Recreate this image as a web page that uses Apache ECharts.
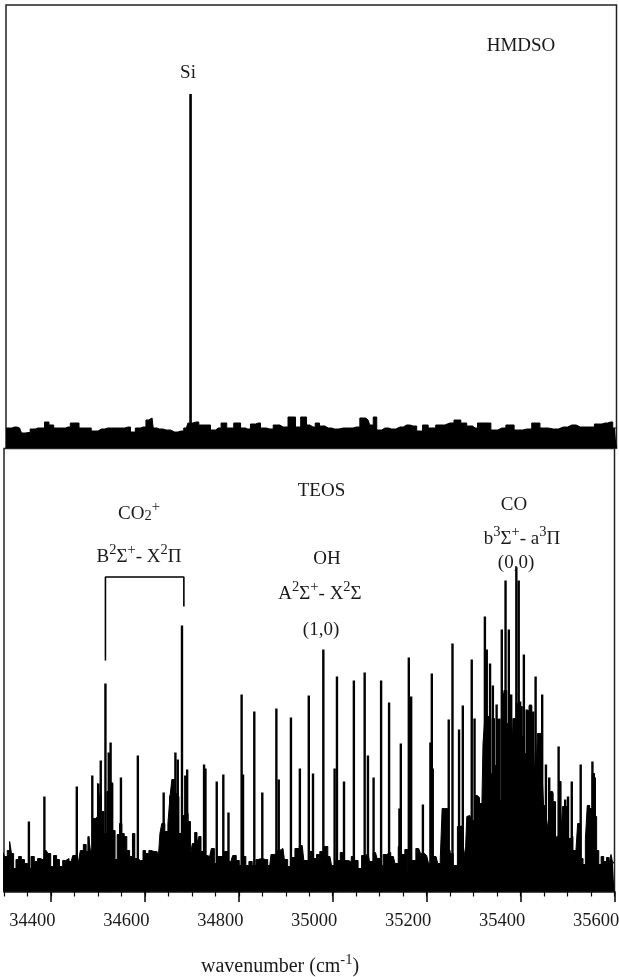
<!DOCTYPE html>
<html><head><meta charset="utf-8">
<style>html,body{margin:0;padding:0;background:#fff}#c{width:619px;height:977px}</style>
<script src="https://cdn.jsdelivr.net/npm/echarts@6/dist/echarts.min.js"></script>
</head><body><div id="c"></div>
<script>
const tickLabels = [34400,34600,34800,35000,35200,35400,35600];
const hmdsoNoise = [[34300,20],[34307,20],[34318,21],[34329,20],[34337,15],[34346,15.5],[34357,19],[34368,20],[34377,20],[34387,26],[34396,23],[34407,20],[34421,20],[34432,21],[34442,25],[34451,25],[34460,20],[34474,20],[34489,17],[34503,19],[34517,20],[34531,20],[34545,20],[34560,21],[34570,16],[34581,20],[34592,21],[34604,28],[34611,30],[34616,20],[34627,19],[34641,18],[34659,16],[34673,17],[34684,20],[34691,25],[34705,26],[34716,23],[34730,23],[34741,18],[34752,20],[34764,25],[34776,20],[34794,25],[34805,20],[34815,19],[34826,24],[34837,25],[34847,20],[34862,19],[34876,23],[34890,21],[34911,31],[34922,21],[34933,31],[34947,23],[34954,21],[34963,25],[34972,22],[34986,20],[35000,19],[35018,20],[35032,20],[35046,21],[35061,30],[35071,28],[35078,23],[35086,31],[35093,18],[35107,20],[35121,19],[35139,21],[35153,23],[35167,22],[35182,17],[35192,23],[35206,20],[35224,23],[35245,25],[35263,28],[35274,25],[35288,22],[35299,20],[35309,25],[35327,25],[35338,18],[35356,20],[35373,23],[35391,18],[35409,19],[35430,25],[35444,20],[35465,19],[35487,21],[35505,23],[35523,21],[35544,21],[35562,24],[35576,25],[35587,26],[35597,20],[35600,20]];
const hmdsoLines = [[34693,354]];
const teosBand = [[34298,39],[34304,35],[34310,41],[34314,50],[34318,38],[34323,23],[34328,32],[34334,35],[34340,32],[34347,28],[34354,23],[34361,35],[34368,30],[34375,33],[34381,31],[34390,41],[34397,38],[34402,25],[34409,36],[34415,32],[34421,25],[34429,31],[34434,33],[34443,30],[34450,36],[34459,31],[34466,41],[34472,47],[34478,40],[34482,55],[34486,41],[34492,73],[34497,75],[34501,108],[34505,95],[34510,80],[34516,58],[34522,100],[34529,108],[34534,61],[34539,32],[34543,57],[34549,68],[34553,58],[34559,55],[34564,41],[34571,35],[34576,58],[34581,33],[34588,31],[34593,31],[34599,41],[34604,38],[34613,41],[34620,40],[34626,40],[34631,33],[34633,58],[34639,68],[34646,60],[34652,68],[34655,95],[34660,112],[34665,98],[34670,95],[34675,58],[34682,76],[34689,78],[34695,70],[34699,36],[34703,48],[34709,59],[34713,48],[34717,55],[34722,40],[34733,36],[34738,35],[34745,43],[34751,28],[34760,35],[34766,35],[34773,40],[34783,30],[34791,36],[34798,31],[34804,26],[34812,35],[34818,26],[34825,30],[34832,26],[34841,32],[34849,33],[34857,32],[34866,26],[34871,37],[34878,38],[34887,41],[34894,43],[34900,32],[34908,25],[34916,34],[34923,43],[34935,46],[34942,31],[34949,30],[34954,40],[34962,33],[34969,37],[34976,40],[34985,45],[34994,35],[35001,26],[35011,31],[35021,39],[35028,31],[35036,30],[35043,35],[35050,31],[35058,23],[35065,36],[35075,38],[35082,30],[35091,39],[35098,33],[35104,26],[35111,37],[35118,39],[35129,35],[35136,28],[35143,45],[35150,37],[35157,42],[35163,21],[35171,31],[35183,43],[35191,38],[35200,36],[35208,28],[35220,35],[35227,28],[35231,33],[35235,83],[35242,83],[35247,41],[35253,38],[35260,26],[35271,65],[35274,66],[35282,30],[35284,45],[35287,75],[35292,76],[35299,71],[35305,96],[35310,94],[35315,88],[35319,71],[35321,148],[35326,171],[35331,175],[35337,118],[35342,173],[35347,126],[35353,172],[35358,91],[35362,198],[35367,201],[35374,168],[35380,197],[35383,146],[35387,173],[35394,188],[35401,185],[35406,155],[35411,138],[35415,181],[35421,186],[35427,180],[35430,131],[35434,105],[35438,158],[35443,158],[35447,125],[35451,86],[35456,78],[35459,65],[35465,100],[35471,90],[35475,46],[35479,55],[35484,110],[35488,60],[35491,85],[35497,85],[35503,53],[35508,55],[35515,41],[35520,38],[35523,68],[35530,33],[35536,27],[35540,52],[35544,86],[35550,83],[35555,118],[35560,75],[35564,41],[35569,27],[35574,35],[35580,30],[35586,34],[35591,27],[35594,37],[35599,28],[35600,30]];
const teosLines = [[34353,70],[34386,95],[34455,105],[34472,47],[34480,55],[34488,116],[34501,108],[34506,131],[34516,208],[34523,139],[34527,149],[34530,109],[34549,114],[34576,57],[34585,136],[34640,99],[34654,96],[34660,112],[34665,139],[34670,132],[34679,266],[34686,116],[34690,122],[34726,127],[34729,123],[34753,110],[34767,117],[34778,79],[34806,197],[34809,117],[34833,180],[34850,99],[34880,183],[34885,112],[34911,174],[34930,123],[34949,196],[34958,118],[34980,242],[35004,123],[35009,215],[35024,110],[35045,211],[35068,219],[35075,136],[35087,114],[35103,211],[35120,189],[35142,83],[35145,148],[35162,234],[35167,195],[35192,87],[35208,149],[35211,218],[35213,123],[35247,172],[35255,248],[35269,162],[35277,186],[35296,232],[35302,173],[35324,275],[35328,242],[35335,228],[35341,206],[35349,187],[35355,173],[35360,262],[35368,311],[35375,262],[35380,197],[35385,173],[35391,324],[35396,311],[35399,190],[35407,237],[35413,182],[35421,187],[35427,180],[35432,215],[35441,158],[35446,197],[35454,127],[35461,114],[35468,99],[35473,90],[35481,145],[35484,110],[35495,92],[35501,95],[35509,110],[35525,68],[35528,127],[35545,86],[35553,130],[35558,114]];
const co2Bracket = [[34516,231],[34516,314.5],[34683,314.5],[34683,285]];
const F = '"Liberation Serif"';
const rich = {
  n:{fontFamily:F,fontSize:19,color:'#1a1a1a',lineHeight:24,verticalAlign:'bottom'},
  w:{fontFamily:F,fontSize:20,color:'#1a1a1a',lineHeight:24,verticalAlign:'bottom'},
  u:{fontFamily:F,fontSize:14.5,color:'#1a1a1a',lineHeight:24,verticalAlign:'top'},
  d:{fontFamily:F,fontSize:14.5,color:'#1a1a1a',lineHeight:24,verticalAlign:'bottom'}
};
function note(x,y,t,align){
  return {type:'text',x:x,y:y,z:20,style:{text:t,rich:rich,align:align||'center',verticalAlign:'middle',fontFamily:F,fontSize:19,fill:'#1a1a1a'}};
}
const notes = [
  note(188,71,'{n|Si}'),
  note(521,44,'{n|HMDSO}'),
  note(321.5,489,'{n|TEOS}'),
  note(139,512,'{n|CO}{d|2}{u|+}'),
  note(139,555,'{n|B}{u|2}{n|Σ}{u|+}{n|- X}{u|2}{n|Π}'),
  note(327,557,'{n|OH}'),
  note(320,592,'{n|A}{u|2}{n|Σ}{u|+}{n|- X}{u|2}{n|Σ}'),
  note(321,628,'{n|(1,0)}'),
  note(514,503,'{n|CO}'),
  note(522,537,'{n|b}{u|3}{n|Σ}{u|+}{n|- a}{u|3}{n|Π}'),
  note(516,561,'{n|(0,0)}'),
  note(280,964.5,'{w|wavenumber (cm}{u|-1}{w|)}')
];
const xBase = {type:'value',min:34300,max:35600};
const chart = echarts.init(document.getElementById('c'),null,{renderer:'canvas',width:619,height:977});
chart.setOption({
  animation:false,
  backgroundColor:'#fff',
  graphic:notes,
  grid:[
    {left:6,top:5,width:610.5,height:443,show:true,outerBoundsMode:'none',borderColor:'#222',borderWidth:1.5,backgroundColor:'transparent'},
    {left:4,top:448.5,width:610.5,height:443,show:true,outerBoundsMode:'none',borderColor:'#222',borderWidth:1.5,backgroundColor:'transparent'}
  ],
  xAxis:[
    Object.assign({},xBase,{gridIndex:0,position:'bottom',interval:50,splitLine:{show:false},axisLine:{lineStyle:{color:'#222',width:1.5}},axisLabel:{show:false},axisTick:{show:true,inside:true,length:3,lineStyle:{color:'#000'}}}),
    Object.assign({},xBase,{gridIndex:1,position:'bottom',splitLine:{show:false},axisLine:{lineStyle:{color:'#222',width:1.5}},
      axisLabel:{show:true,customValues:tickLabels,margin:20.5,fontFamily:F,fontSize:18.5,color:'#1a1a1a',hideOverlap:false,padding:[0,37,0,0],formatter:v=>String(v)},
      axisTick:{show:true,customValues:tickLabels,length:10.5,lineStyle:{color:'#000',width:1.5}}}),
    Object.assign({},xBase,{gridIndex:1,position:'bottom',interval:50,splitLine:{show:false},axisLine:{show:false},axisLabel:{show:false},axisTick:{show:true,length:5,lineStyle:{color:'#000',width:1.2}}})
  ],
  yAxis:[
    {type:'value',gridIndex:0,min:0,max:443,show:false},
    {type:'value',gridIndex:1,min:0,max:443,show:false}
  ],
  series:[
    {name:'HMDSO background',type:'line',step:'middle',xAxisIndex:0,yAxisIndex:0,data:hmdsoNoise,showSymbol:false,lineStyle:{color:'#000',width:1},areaStyle:{color:'#000',opacity:1},silent:true},
    {name:'HMDSO lines',type:'bar',xAxisIndex:0,yAxisIndex:0,data:hmdsoLines,barWidth:2.6,itemStyle:{color:'#000'},silent:true},
    {name:'TEOS band',type:'line',step:'middle',xAxisIndex:1,yAxisIndex:1,data:teosBand,showSymbol:false,lineStyle:{color:'#000',width:1},areaStyle:{color:'#000',opacity:1},silent:true},
    {name:'TEOS lines',type:'bar',xAxisIndex:1,yAxisIndex:1,data:teosLines,barWidth:2.4,itemStyle:{color:'#000'},silent:true},
    {name:'bracket',type:'line',xAxisIndex:1,yAxisIndex:1,data:co2Bracket,showSymbol:false,lineStyle:{color:'#000',width:1.6},silent:true}
  ]
});
</script></body></html>
